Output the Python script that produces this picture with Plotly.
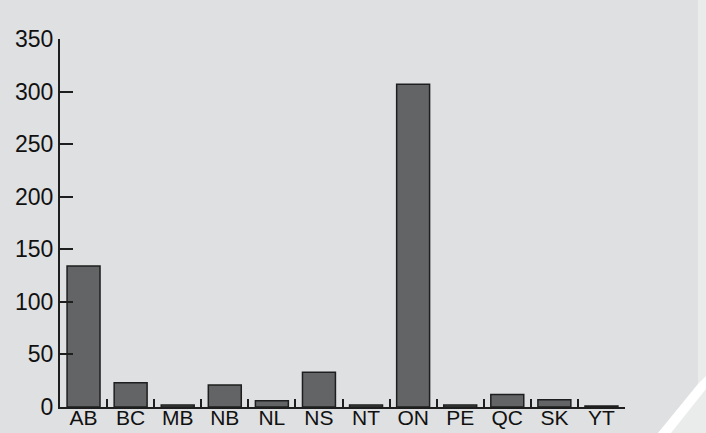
import plotly.graph_objects as go

provinces = ["AB", "BC", "MB", "NB", "NL", "NS", "NT", "ON", "PE", "QC", "SK", "YT"]
counts = [134, 23, 2, 21, 6, 33, 2, 307, 2, 12, 7, 1]
y_ticks = [0, 50, 100, 150, 200, 250, 300, 350]

W, H = 706, 433
L, R, T, B = 60, 81, 39, 26
pw, ph = W - L - R, H - T - B

def px(x):
    return (x - L) / pw

def py(y):
    return (H - B - y) / ph

def path(points):
    return "M " + " L ".join(f"{px(x)},{py(y)}" for x, y in points) + " Z"

fig = go.Figure()
fig.add_trace(go.Bar(
    x=provinces, y=counts,
    marker=dict(color="#636466", line=dict(color="#1e1e1e", width=1.5)),
))

font = dict(family="Liberation Sans, Arial", size=23, color="#111111")
xfont = dict(family="Liberation Sans, Arial", size=21, color="#111111")

shapes = [
    dict(type="path", xref="paper", yref="paper", layer="below",
         path=path([(0, 0), (698, 0), (698, 384), (658, 433), (0, 433)]),
         fillcolor="#dfe0e2", line=dict(width=0)),
    dict(type="path", xref="paper", yref="paper", layer="below",
         path=path([(658, 433), (671, 433), (706, 389), (706, 376), (698, 384)]),
         fillcolor="#ffffff", line=dict(width=0)),
]

fig.update_layout(
    width=W, height=H,
    margin=dict(l=L, r=R, t=T, b=B, autoexpand=False),
    paper_bgcolor="#eaebeb",
    plot_bgcolor="rgba(0,0,0,0)",
    showlegend=False,
    bargap=0.3,
    font=font,
    shapes=shapes,
    xaxis=dict(
        type="category", showline=True, linecolor="#1e1e1e", linewidth=2,
        ticks="inside", tickson="boundaries", ticklen=8, tickwidth=1.5, tickcolor="#1e1e1e",
        showgrid=False, zeroline=False, tickfont=xfont, automargin=False,
        ticklabelstandoff=-9,
    ),
    yaxis=dict(
        range=[0, 350], tickvals=y_ticks, showline=True, linecolor="#1e1e1e", linewidth=2,
        ticks="inside", ticklen=13, tickwidth=2, tickcolor="#1e1e1e",
        showgrid=False, zeroline=False, tickfont=font, automargin=False,
    ),
)

fig.write_html("out.html")
